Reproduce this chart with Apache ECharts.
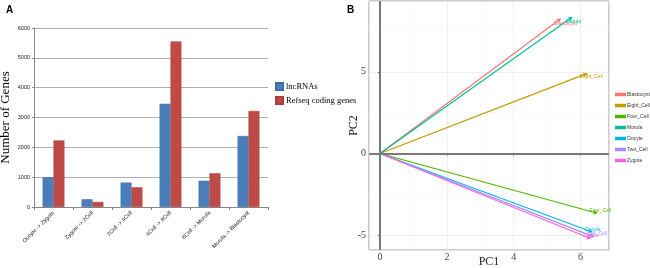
<!DOCTYPE html>
<html>
<head>
<meta charset="utf-8">
<script src="https://cdn.jsdelivr.net/npm/echarts@6/dist/echarts.min.js"></script>
<style>
  html, body { margin: 0; padding: 0; background: #fff; }
  #chart { width: 650px; height: 268px; }
</style>
</head>
<body>
<div id="chart"></div>
<script>
// panel A: differential genes between stages
const transitions = ['Oocyte -> Zygote', 'Zygote -> 2Cell', '2Cell -> 4Cell', '4Cell -> 8Cell', '8Cell -> Morula', 'Morula -> Blastocyst'];
const lncRNAs = [1000, 260, 820, 3460, 880, 2380];
const refseq = [2230, 170, 660, 5550, 1130, 3220];

// panel B: PCA loading arrows (PC1, PC2)
const stages = ['Blastocyst', 'Eight_Cell', 'Four_Cell', 'Morula', 'Oocyte', 'Two_Cell', 'Zygote'];
const pc1 = [5.4, 6.2, 6.5, 5.75, 6.35, 6.4, 6.3];
const pc2 = [8.25, 4.9, -3.65, 8.35, -4.8, -5.1, -5.2];
const stageColors = ['#F8766D', '#C49A00', '#53B400', '#00C094', '#00B6EB', '#A58AFF', '#FB61D7'];

const serif = '"Liberation Serif", "DejaVu Serif", serif';
const sans = '"Liberation Sans", Arial, sans-serif';

const myChart = echarts.init(document.getElementById('chart'));

const arrowSeries = stages.map(function (name, i) {
  return {
    name: name,
    type: 'lines',
    coordinateSystem: 'cartesian2d',
    xAxisIndex: 1,
    yAxisIndex: 1,
    symbol: ['none', 'arrow'],
    symbolSize: 4,
    silent: true,
    lineStyle: { color: stageColors[i], width: 1.2, opacity: 1 },
    label: {
      show: true,
      position: 'end',
      distance: -8,
      formatter: name,
      fontSize: 5,
      fontFamily: sans,
      color: stageColors[i]
    },
    data: [{ coords: [[0, 0], [pc1[i], pc2[i]]] }]
  };
});

myChart.setOption({
  animation: false,
  color: ['#4A7EBB', '#BE4B48'],
  title: [
    { text: 'A', left: 1, top: 0, textStyle: { fontSize: 10, fontWeight: 'bold', fontFamily: sans, color: '#000' } },
    { text: 'B', left: 342, top: 0, textStyle: { fontSize: 10, fontWeight: 'bold', fontFamily: sans, color: '#000' } }
  ],
  legend: [
    {
      data: ['lncRNAs', 'Refseq coding genes'],
      orient: 'vertical',
      left: 270,
      top: 77,
      itemWidth: 7,
      itemHeight: 7,
      itemGap: 5,
      icon: 'rect',
      textStyle: { fontFamily: serif, fontSize: 8.5, color: '#000', padding: [0, 0, 0, -2] }
    },
    {
      data: stages.map(function (s, i) { return { name: s, itemStyle: { color: stageColors[i] } }; }),
      orient: 'vertical',
      left: 613,
      top: 90,
      itemWidth: 9,
      itemHeight: 1.5,
      itemGap: 6,
      icon: 'rect',
      padding: 2,
      textStyle: { fontFamily: sans, fontSize: 5, color: '#333', padding: [0, 0, 0, -3] }
    }
  ],
  grid: [
    { left: 34, right: 382, top: 28, bottom: 61, outerBoundsMode: 'none' },
    { left: 369, right: 41, top: 1, bottom: 18, outerBoundsMode: 'none', show: true, borderColor: '#999', borderWidth: 1, backgroundColor: 'transparent' }
  ],
  xAxis: [
    {
      type: 'category',
      gridIndex: 0,
      data: transitions,
      axisLine: { lineStyle: { color: '#888' } },
      axisTick: { show: true, length: 3, lineStyle: { color: '#888' } },
      axisLabel: { rotate: 45, fontSize: 5.5, fontFamily: sans, color: '#222', margin: 5, interval: 0 }
    },
    {
      type: 'value',
      gridIndex: 1,
      min: -0.33,
      max: 6.85,
      splitNumber: 4,
      name: 'PC1',
      nameLocation: 'middle',
      nameGap: 6,
      nameMoveOverlap: false,
      nameTextStyle: { fontFamily: serif, fontSize: 12, color: '#222' },
      axisLine: { show: false },
      axisTick: { show: true, length: 2, lineStyle: { color: '#555' } },
      axisLabel: { fontFamily: serif, fontSize: 10, color: '#444', margin: 2, showMinLabel: false, showMaxLabel: false },
      splitLine: { show: true, lineStyle: { color: '#ebebeb', width: 0.8 } },
      minorTick: { show: false, splitNumber: 2 },
      minorSplitLine: { show: true, lineStyle: { color: '#f4f4f4', width: 0.5 } }
    }
  ],
  yAxis: [
    {
      type: 'value',
      gridIndex: 0,
      min: 0,
      max: 6000,
      interval: 1000,
      name: 'Number of Genes',
      nameLocation: 'middle',
      nameGap: 22,
      nameTextStyle: { fontFamily: serif, fontSize: 13, color: '#000' },
      axisLine: { show: true, lineStyle: { color: '#888' } },
      axisTick: { show: true, length: 2, lineStyle: { color: '#888' } },
      axisLabel: { fontFamily: sans, fontSize: 5.5, color: '#222', margin: 4, formatter: function (v) { return String(v); } },
      splitLine: { lineStyle: { color: '#9a9a9a', width: 0.8 } }
    },
    {
      type: 'value',
      gridIndex: 1,
      min: -5.9,
      max: 9.33,
      splitNumber: 3,
      name: 'PC2',
      nameLocation: 'middle',
      nameGap: 9,
      nameMoveOverlap: false,
      nameTextStyle: { fontFamily: serif, fontSize: 12, color: '#222' },
      axisLine: { show: false },
      axisTick: { show: true, length: 2, lineStyle: { color: '#555' } },
      axisLabel: { fontFamily: serif, fontSize: 10, color: '#444', margin: 3, showMinLabel: false, showMaxLabel: false },
      splitLine: { show: true, lineStyle: { color: '#ebebeb', width: 0.8 } },
      minorTick: { show: false, splitNumber: 2 },
      minorSplitLine: { show: true, lineStyle: { color: '#f4f4f4', width: 0.5 } }
    }
  ],
  series: [
    {
      name: 'lncRNAs',
      type: 'bar',
      xAxisIndex: 0,
      yAxisIndex: 0,
      barGap: '0%',
      barCategoryGap: '44%',
      itemStyle: { borderColor: '#3d6da6', borderWidth: 0.5 },
      data: lncRNAs
    },
    {
      name: 'Refseq coding genes',
      type: 'bar',
      xAxisIndex: 0,
      yAxisIndex: 0,
      barGap: '0%',
      barCategoryGap: '44%',
      itemStyle: { borderColor: '#a63f3d', borderWidth: 0.5 },
      data: refseq
    },
    {
      // zero reference lines of the PCA panel
      type: 'line',
      xAxisIndex: 1,
      yAxisIndex: 1,
      data: [],
      silent: true,
      markLine: {
        symbol: 'none',
        silent: true,
        label: { show: false },
        lineStyle: { color: '#7a7a7a', width: 2, type: 'solid' },
        data: [{ xAxis: 0 }, { yAxis: 0 }]
      }
    }
  ].concat(arrowSeries)
});
</script>
</body>
</html>
